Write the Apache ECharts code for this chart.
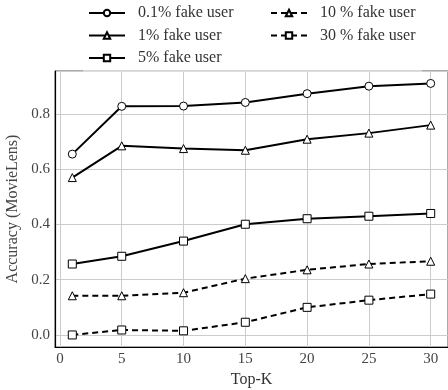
<!DOCTYPE html>
<html>
<head>
<meta charset="utf-8">
<script src="https://cdn.jsdelivr.net/npm/echarts@6/dist/echarts.min.js"></script>
<style>html,body{margin:0;padding:0;background:#fff}#c{width:448px;height:390px}</style>
</head>
<body>
<div id="c"></div>
<script>
const topK = [1, 5, 10, 15, 20, 25, 30];
const fake01 = [0.655, 0.828, 0.829, 0.842, 0.874, 0.901, 0.911];
const fake1 = [0.570, 0.685, 0.675, 0.669, 0.709, 0.731, 0.760];
const fake5 = [0.257, 0.285, 0.340, 0.401, 0.421, 0.430, 0.440];
const fake10 = [0.142, 0.142, 0.153, 0.204, 0.236, 0.257, 0.267];
const fake30 = [0.000, 0.018, 0.015, 0.046, 0.100, 0.126, 0.148];
const names = ['0.1% fake user', '1% fake user', '5% fake user', '10 % fake user', '30 % fake user'];

const font = '"Liberation Serif", "DejaVu Serif", serif';
const pairs = arr => topK.map((k, i) => [k, arr[i]]);
const mk = (name, arr, symbol, dashed) => ({
  name, type: 'line', data: pairs(arr), symbol, symbolSize: 8,
  showAllSymbol: true,
  lineStyle: { color: '#000', width: 2, type: dashed ? [6, 4] : 'solid' },
  itemStyle: { color: '#fff', borderColor: '#000', borderWidth: 1 },
  emphasis: { disabled: true }, animation: false, z: 3
});

const chart = echarts.init(document.getElementById('c'));
const legendCommon = {
  orient: 'vertical', itemWidth: 36, itemHeight: 8, itemGap: 6.5, padding: [1, 5, 5, 5],
  textStyle: { fontFamily: font, fontSize: 16, color: '#333', padding: [0, 0, 0, 8] },
  z: 10, selectedMode: false
};
chart.setOption({
  animation: false,
  backgroundColor: '#fff',
  grid: { left: 55, top: 71, right: 0, bottom: 43, show: true, borderColor: '#555', borderWidth: 1,
    outerBoundsMode: 'none', containLabel: false },
  graphic: [
    { type: 'rect', z: 8, shape: { x: 83, y: 0, width: 339, height: 70.5 }, style: { fill: '#fff' } },
    { type: 'line', z: 8, shape: { x1: 83, y1: 71.5, x2: 422, y2: 71.5 }, style: { stroke: '#ddd', lineWidth: 1 } }
  ],
  legend: [
    Object.assign({}, legendCommon, { left: 83, top: 4, data: names.slice(0, 3) }),
    Object.assign({}, legendCommon, { left: 265, top: 4, data: names.slice(3) })
  ],
  xAxis: {
    type: 'value', min: -0.4, max: 31.4, minInterval: 5, maxInterval: 5,
    name: 'Top-K', nameLocation: 'middle', nameGap: 23,
    nameTextStyle: { fontFamily: font, fontSize: 16, color: '#333' },
    axisLine: { show: true, onZero: false, lineStyle: { color: '#000', width: 1.2 } },
    axisTick: { show: false },
    axisLabel: { fontFamily: font, fontSize: 15, color: '#444', margin: 5, showMinLabel: false, showMaxLabel: false },
    splitLine: { show: true, lineStyle: { color: '#ccc', width: 1 } }
  },
  yAxis: {
    type: 'value', min: -0.0436, max: 0.956, minInterval: 0.2, maxInterval: 0.2,
    name: 'Accuracy (MovieLens)', nameLocation: 'middle', nameGap: 31, nameRotate: 90,
    nameTextStyle: { fontFamily: font, fontSize: 16, color: '#444' },
    axisLine: { show: true, onZero: false, lineStyle: { color: '#000', width: 1.2 } },
    axisTick: { show: false },
    axisLabel: { fontFamily: font, fontSize: 15, color: '#444', margin: 5, showMinLabel: false, showMaxLabel: false,
      formatter: v => v.toFixed(1) },
    splitLine: { show: true, lineStyle: { color: '#ccc', width: 1 } }
  },
  series: [
    mk(names[0], fake01, 'circle', false),
    mk(names[1], fake1, 'triangle', false),
    mk(names[2], fake5, 'rect', false),
    mk(names[3], fake10, 'triangle', true),
    mk(names[4], fake30, 'rect', true)
  ]
});
</script>
</body>
</html>
